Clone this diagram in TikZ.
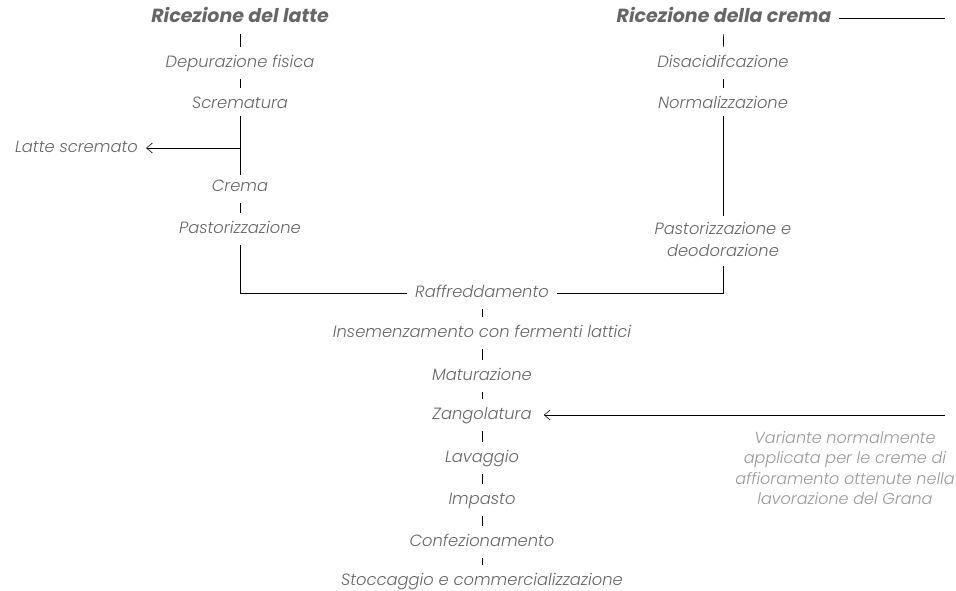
\documentclass[tikz,border=0pt]{standalone}
\usepackage{fontspec}
\setmainfont{Poppins Light}[ItalicFont=Poppins Light Italic,BoldItalicFont=Poppins Bold Italic]
\usetikzlibrary{arrows.meta}
\definecolor{txt}{HTML}{666666}
\definecolor{note}{HTML}{999999}
\begin{document}
\begin{tikzpicture}[x=1pt,y=-1pt,
  lbl/.style={text=txt,font=\fontsize{16.3}{18}\selectfont\itshape,text height=12pt,text depth=3.5pt,inner ysep=8.2pt,inner xsep=8pt},
  ttl/.style={lbl,font=\fontsize{19}{20}\selectfont\bfseries\itshape},
  nt/.style={text=note,font=\fontsize{16}{20.5}\selectfont\itshape,align=center},
  ln/.style={draw=black,line width=0.7pt},
  ar/.style={ln,-{Straight Barb[length=6pt,width=10pt,line width=0.6pt]}}]
\useasboundingbox (0,0) rectangle (956,591);
% left column
\node[ttl] (rl) at (240,18) {Ricezione del latte};
\node[lbl] (dep) at (240,63) {Depurazione fisica};
\node[lbl] (scr) at (240,104) {Scrematura};
\node[lbl,anchor=east] (lat) at (146,148) {Latte scremato};
\node[lbl] (cre) at (240,187) {Crema};
\node[lbl] (pas) at (240,229) {Pastorizzazione};
% right column
\node[ttl,inner xsep=7pt] (rc) at (724,18) {Ricezione della crema};
\node[lbl] (dis) at (723,63) {Disacidifcazione};
\node[lbl] (nor) at (723,104) {Normalizzazione};
\node[lbl,anchor=north,align=center,font=\fontsize{16.3}{22}\selectfont\itshape,text height=34pt,text depth=3.5pt,inner ysep=6pt] (pde) at (723,216) {Pastorizzazione e\\deodorazione};
% centre column
\node[lbl] (raf) at (482,293) {Raffreddamento};
\node[lbl] (ins) at (482,333) {Insemenzamento con fermenti lattici};
\node[lbl] (mat) at (482,376) {Maturazione};
\node[lbl] (zan) at (482,415) {Zangolatura};
\node[lbl] (lav) at (482,458) {Lavaggio};
\node[lbl] (imp) at (482,500) {Impasto};
\node[lbl] (con) at (482,542) {Confezionamento};
\node[lbl] (sto) at (482,581) {Stoccaggio e commercializzazione};
\node[nt] (var) at (845,468) {Variante normalmente\\applicata per le creme di\\affioramento ottenute nella\\lavorazione del Grana};
\coordinate (br) at (240,148);
\coordinate (rce) at (945,18);
\coordinate (zae) at (945,415);
% connectors
\draw[ln] (rl) -- (dep);
\draw[ln] (dep) -- (scr);
\draw[ln,shorten <=-4pt,shorten >=-4pt] (scr) -- (cre);
\draw[ar] (br) -- (lat.east);
\draw[ln] (cre) -- (pas);
\draw[ln] (pas.south) |- (raf.west);
\draw[ln] (rc) -- (dis);
\draw[ln] (dis) -- (nor);
\draw[ln,shorten <=-4pt] (nor) -- (pde.north);
\draw[ln] (pde.south) |- (raf.east);
\draw[ln] (rc.east) -- (rce);
\draw[ln] (raf) -- (ins);
\draw[ln] (ins) -- (mat);
\draw[ln] (mat) -- (zan);
\draw[ln] (zan) -- (lav);
\draw[ln] (lav) -- (imp);
\draw[ln] (imp) -- (con);
\draw[ln] (con) -- (sto);
\draw[ar,shorten >=4pt] (zae) -- (zan.east);
\end{tikzpicture}
\end{document}
